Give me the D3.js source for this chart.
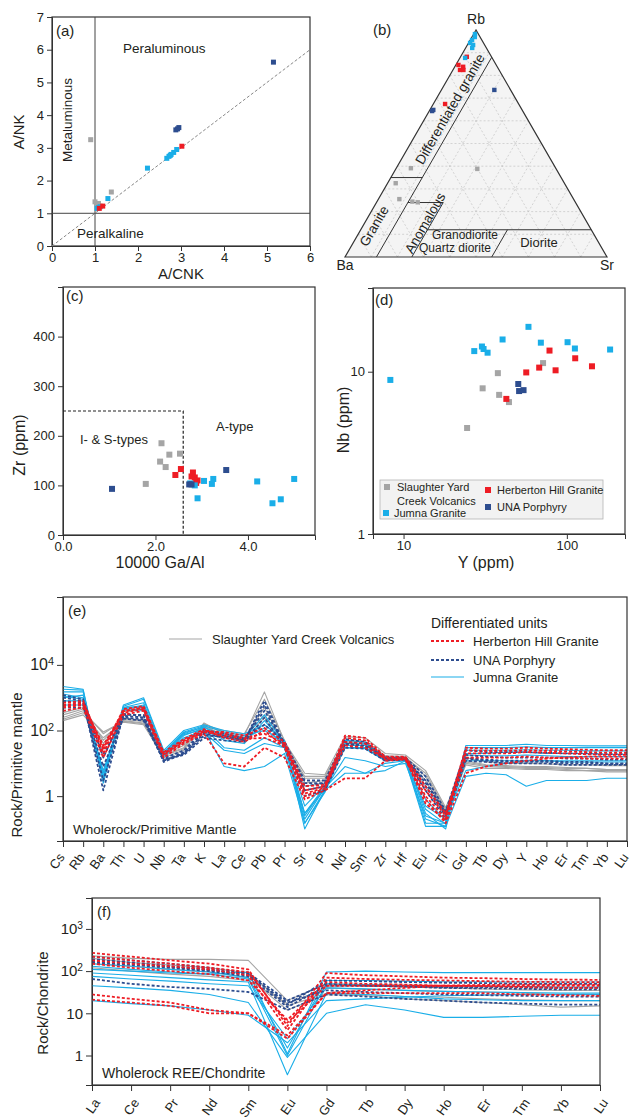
<!DOCTYPE html>
<html>
<head>
<meta charset="utf-8">
<script src="https://cdn.jsdelivr.net/npm/d3@7"></script>
<style>
  body { margin: 0; background: #fff; }
  text { font-family: "Liberation Sans", Arial, sans-serif; fill: #231f20; }
</style>
</head>
<body>
<svg id="fig" width="633" height="1119"></svg>
<script>
// ---------- data ----------
// (a) A/CNK vs A/NK
const aGray = [[0.9,3.25],[1.0,1.35],[1.08,1.3],[1.05,1.25],[1.38,1.65],[1.12,1.22]];
const aCyan = [[1.3,1.45],[2.22,2.38],[2.67,2.68],[2.72,2.74],[2.77,2.8],[2.83,2.86],[2.9,2.95],[1.05,1.15],[1.08,1.17],[1.12,1.2],[2.75,2.77]];
const aRed  = [[3.02,3.05],[1.18,1.22],[1.1,1.15]];
const aNavy = [[2.88,3.55],[2.95,3.62],[2.92,3.58],[5.15,5.62]];

// (b) Rb-Ba-Sr ternary, [Rb, Ba, Sr] %
const bCyan = [[98.2,1.3,0.5],[96.9,2.0,1.1],[95.6,3.7,0.7],[94.3,5.1,0.6],[93.4,4.4,2.2],[92.1,5.4,2.5],[87.7,10.3,2.0]];
const bRed  = [[88.2,9.4,2.4],[84.6,14.4,1.0],[83.8,13.0,3.2],[82.4,14.9,2.7],[82.4,13.6,4.0],[67.4,28.1,4.5]];
const bNavy = [[64.8,33.9,1.3],[64.3,34.6,1.1],[73.6,6.2,20.2]];
const bGray = [[39.1,55.3,5.6],[32.5,64.4,3.1],[25.5,66.5,8.0],[24.4,62.1,13.5],[24.1,60.2,15.7],[38.8,30.1,31.1]];

// (c) 10000 Ga/Al vs Zr
const cGray = [[2.13,185],[2.1,148],[2.22,137],[2.3,162],[2.53,164],[1.79,103]];
const cRed  = [[2.43,121],[2.55,133],[2.81,126],[2.85,116],[2.91,110],[2.78,118],[2.88,105]];
const cNavy = [[1.06,93],[2.73,102],[2.78,102],[3.53,131]];
const cCyan = [[2.85,100],[2.91,74],[3.05,109],[3.25,113],[3.22,103],[4.2,108],[4.53,64],[4.71,72],[5.0,113],[2.75,104]];

// (d) Y vs Nb
const dCyan = [[8.3,8.9],[27.1,13.4],[30.2,14.3],[30.9,13.8],[32.7,13.1],[40.4,15.8],[58.2,18.9],[69.3,15.1],[101,15.2],[112,13.9],[184,13.7]];
const dGray = [[37.8,9.8],[30.5,7.9],[38.5,7.2],[44.2,6.5],[24.5,4.5],[71.5,11.3]];
const dRed  = [[42.6,6.8],[56.4,9.9],[67.7,10.6],[78.3,13.5],[85.3,10.2],[112.5,12.1],[142.5,10.8]];
const dNavy = [[50.4,8.4],[51,7.6],[54.3,7.7]];

// (e) primitive-mantle normalised spider diagram
const spiderElems = ["Cs","Rb","Ba","Th","U","Nb","Ta","K","La","Ce","Pb","Pr","Sr","P","Nd","Sm","Zr","Hf","Eu","Ti","Gd","Tb","Dy","Y","Ho","Er","Tm","Yb","Lu"];
const eGray = [
  [250,400,80,200,170,18,30,160,90,70,1500,45,5,4.5,65,60,20,18,6,0.45,12,9,8.5,8,8,7.5,7,6.5,6.5],
  [200,300,60,180,150,15,25,140,70,55,500,35,3.5,3.5,50,45,17,16,4,0.35,10,8,7.5,7,7,6.5,6,6,6],
  [300,450,50,220,190,20,35,130,100,80,900,50,2.5,3,40,35,15,14,3,0.3,15,11,10,10,9.5,9,9,8.5,8.5],
  [350,500,40,240,200,22,40,150,60,50,250,30,2,2.5,30,30,13,13,2,0.25,9,7,7,6.5,6.5,6,6,5.5,5.5],
  [220,350,90,190,160,17,28,170,80,60,300,40,4,4,45,40,16,15,5,0.4,11,8.5,8,7.5,7.5,7,7,6.5,6.5]
];
const eRed = [
  [600,700,20,400,500,20,50,100,80,60,80,40,1.5,2,60,50,15,15,1.5,0.25,30,28,28,30,28,27,26,25,25],
  [500,600,30,350,450,18,45,90,70,55,60,35,1.2,1.8,45,40,13,14,1.0,0.2,25,24,24,25,24,23,22,21,21],
  [400,500,15,300,400,15,40,80,10,8,30,15,0.8,1.5,3.5,3.5,12,13,0.8,0.15,5,8,10,12,14,15,16,16,16],
  [700,800,25,450,550,22,55,110,60,45,100,30,1.0,1.7,35,30,14,14,0.6,0.18,15,15,15,16,15,15,14,14,14],
  [550,650,35,380,480,19,48,95,90,70,120,45,2,2.2,70,60,16,16,2,0.3,20,20,20,22,21,20,19,18,18]
];
const eNavy = [
  [1000,800,1.5,300,300,11,20,80,60,50,600,35,2,2.5,40,35,15,14,3,0.3,15,13,12,12,12,11,11,10,10],
  [800,700,3,280,250,12,22,90,70,55,400,40,1.5,2,45,40,14,14,2,0.25,18,16,15,15,15,14,14,13,13],
  [600,600,8,250,220,13,18,60,50,45,250,30,1,1.5,30,28,12,13,1.5,0.2,12,11,10,10,10,9,9,9,9],
  [1200,900,15,320,280,14,25,100,80,60,150,45,3,3,55,45,16,15,4,0.35,25,22,22,22,21,20,20,19,19],
  [500,500,20,230,200,12,20,70,65,50,800,38,2.5,2.5,38,33,13,14,2.5,0.3,14,12,11,11,11,10,10,9.5,9.5]
];
const eCyan = [
  [2200,1800,3,600,1000,25,100,150,100,80,150,50,0.1,1.5,40,40,15,15,0.3,0.1,35,35,35,38,35,35,34,34,34],
  [1800,1700,2.5,550,900,22,90,140,90,70,100,45,0.15,1.3,35,35,13,14,0.2,0.12,30,30,30,32,30,30,30,30,30],
  [1500,1500,4,500,700,20,80,130,50,40,200,40,0.3,2,30,30,12,13,0.15,0.15,25,25,25,26,25,25,24,24,24],
  [1000,1200,3.5,450,600,18,70,120,30,25,60,30,0.2,1.8,8,5,6,12,0.12,0.12,4,5,4.5,2,3,3,3,3.5,3.5],
  [1300,1000,5,480,500,21,75,110,8,6,8,20,0.15,1.5,5,5,10,12,0.5,0.2,6,8,10,12,12,12,12,12,12],
  [800,800,6,420,450,19,60,100,80,60,300,40,0.5,2.2,50,45,14,14,0.8,0.18,20,20,22,22,20,20,20,19,19],
  [600,600,4,400,400,16,55,90,25,20,40,30,0.3,1.6,15,12,8,10,0.25,0.15,12,12,12,12,12,11,11,11,11],
  [1100,900,3,500,550,20,85,125,70,55,120,35,0.25,1.9,30,28,12,13,0.4,0.14,18,17,17,18,17,16,16,16,16]
];

// (f) chondrite-normalised REE
const reeElems = ["La","Ce","Pr","Nd","Sm","Eu","Gd","Tb","Dy","Ho","Er","Tm","Yb","Lu"];
const fGray = [
  [230,200,190,190,180,20,50,45,42,40,38,36,35,35],
  [200,160,140,120,90,15,30,28,25,24,22,21,20,20],
  [150,130,110,95,70,12,28,26,22,20,18,16,14,15],
  [120,100,85,75,60,17,40,37,35,33,32,30,28,28]
];
const fRed = [
  [270,220,180,150,110,5,90,80,75,70,68,65,63,62],
  [180,150,130,110,80,4,70,65,62,60,58,56,55,55],
  [28,22,18,12,10,3,30,30,30,30,30,28,27,26],
  [21,18,15,10,10,2.5,30,35,40,45,47,48,48,48],
  [150,120,100,85,60,7,55,50,48,45,44,42,40,40],
  [220,180,150,120,95,6,45,45,45,45,45,45,45,45]
];
const fNavy = [
  [220,180,150,120,90,20,50,45,43,40,39,38,37,37],
  [190,160,130,110,80,18,35,32,30,28,27,26,25,25],
  [65,50,42,38,32,12,28,25,22,20,18,17,16,16],
  [160,140,120,100,75,14,45,45,44,42,42,41,40,40],
  [170,150,125,105,85,16,60,58,55,53,52,50,50,50]
];
const fCyan = [
  [110,100,90,85,95,1.1,95,100,95,92,92,92,92,92],
  [90,80,70,62,55,0.35,30,28,25,22,21,20,20,20],
  [45,40,35,28,18,0.9,10,16,12,8,8,8.5,9,9],
  [20,17,15,12,9,2,20,22,24,26,27,28,28,28],
  [150,130,110,95,70,1.5,60,60,58,56,56,55,55,55],
  [75,65,58,50,45,2.5,40,38,35,33,32,31,30,30],
  [130,110,95,85,65,1.0,50,48,46,45,44,43,42,42]
];

// ---------- styling ----------
const FONT = "'Liberation Sans', Arial, sans-serif";
const cGrayC = "#a5a5a5", cRedC = "#ee1c24", cNavyC = "#2d4d8f", cCyanC = "#1aaee8";
const ink = "#231f20";

const svg = d3.select("#fig");
svg.append("rect").attr("width", 633).attr("height", 1119).attr("fill", "#fff");

function styleAxis(g, size) {
  g.attr("font-family", FONT).attr("font-size", size);
  g.selectAll("path,line").attr("stroke", "#333");
  g.selectAll("text").attr("fill", ink);
  return g;
}

function squares(g, pts, x, y, color, s) {
  g.selectAll(null).data(pts).enter().append("rect")
    .attr("x", d => x(d[0]) - s / 2)
    .attr("y", d => y(d[1]) - s / 2)
    .attr("width", s).attr("height", s)
    .attr("fill", color);
}

function frame(g, x0, y0, x1, y1) {
  g.append("rect").attr("x", x0).attr("y", y0)
    .attr("width", x1 - x0).attr("height", y1 - y0)
    .attr("fill", "none").attr("stroke", "#333").attr("stroke-width", 1.2);
}

// ---------- (a) ----------
{
  const x = d3.scaleLinear().domain([0, 6]).range([52, 310]);
  const y = d3.scaleLinear().domain([0, 7]).range([246, 17]);
  const g = svg.append("g");

  styleAxis(g.append("g").attr("transform", "translate(0,246)")
    .call(d3.axisBottom(x).ticks(6).tickSize(5).tickPadding(2)), 13);
  styleAxis(g.append("g").attr("transform", "translate(52,0)")
    .call(d3.axisLeft(y).ticks(7).tickSize(5).tickPadding(3)), 13);
  frame(g, 52, 17, 310, 246);

  g.append("line").attr("x1", x(1)).attr("x2", x(1)).attr("y1", y(0)).attr("y2", y(7))
    .attr("stroke", "#444").attr("stroke-width", 1);
  g.append("line").attr("x1", x(0)).attr("x2", x(6)).attr("y1", y(1)).attr("y2", y(1))
    .attr("stroke", "#444").attr("stroke-width", 1);
  g.append("line").attr("x1", x(0)).attr("x2", x(6)).attr("y1", y(0)).attr("y2", y(6))
    .attr("stroke", "#888").attr("stroke-width", 1).attr("stroke-dasharray", "3,2");

  squares(g, aGray, x, y, cGrayC, 5);
  squares(g, aCyan, x, y, cCyanC, 5);
  squares(g, aRed, x, y, cRedC, 5);
  squares(g, aNavy, x, y, cNavyC, 5);

  g.append("text").attr("x", 56).attr("y", 36).attr("font-size", 15).text("(a)");
  g.append("text").attr("x", 123).attr("y", 53).attr("font-size", 13.5).text("Peraluminous");
  g.append("text").attr("transform", "translate(72,120) rotate(-90)")
    .attr("text-anchor", "middle").attr("font-size", 13.5).text("Metaluminous");
  g.append("text").attr("x", 77).attr("y", 238).attr("font-size", 13.5).text("Peralkaline");
  g.append("text").attr("x", 181).attr("y", 279).attr("text-anchor", "middle").attr("font-size", 15).text("A/CNK");
  g.append("text").attr("transform", "translate(24,132) rotate(-90)")
    .attr("text-anchor", "middle").attr("font-size", 15).text("A/NK");
}

// ---------- (b) ternary ----------
{
  const g = svg.append("g");
  const Rb = [476, 30], Ba = [345, 257], Sr = [607, 257];
  const pt = (r, b, s) => {
    const t = r + b + s;
    r /= t; b /= t; s /= t;
    return [Ba[0] * b + Sr[0] * s + Rb[0] * r, Ba[1] * b + Sr[1] * s + Rb[1] * r];
  };
  const tri = [Rb, Ba, Sr];
  g.append("polygon").attr("points", tri.map(p => p.join(",")).join(" "))
    .attr("fill", "#f4f4f4").attr("stroke", "none");

  const grid = d3.range(1, 10).map(k => k / 10);
  const segs = [];
  grid.forEach(k => {
    segs.push([pt(k, 1 - k, 0), pt(k, 0, 1 - k)]);   // constant Rb
    segs.push([pt(0, 1 - k, k), pt(1 - k, 0, k)]);   // constant Sr
    segs.push([pt(0, k, 1 - k), pt(1 - k, k, 0)]);   // constant Ba
  });
  g.selectAll(null).data(segs).enter().append("line")
    .attr("x1", d => d[0][0]).attr("y1", d => d[0][1])
    .attr("x2", d => d[1][0]).attr("y2", d => d[1][1])
    .attr("stroke", "#c4c4c4").attr("stroke-width", 0.7).attr("stroke-dasharray", "2,2");

  g.append("polygon").attr("points", tri.map(p => p.join(",")).join(" "))
    .attr("fill", "none").attr("stroke", "#333").attr("stroke-width", 1.2);

  const fields = [
    [pt(0, 88, 12), pt(88, 0, 12)],
    [pt(35, 65, 0), pt(35, 53, 12)],
    [pt(24, 64, 12), pt(24, 50.5, 25.5)],
    [pt(0, 74.5, 25.5), pt(24, 50.5, 25.5)],
    [pt(12, 63, 25), pt(12, 0, 88)],
    [pt(0, 44, 56), pt(12, 32, 56)]
  ];
  g.selectAll(null).data(fields).enter().append("line")
    .attr("x1", d => d[0][0]).attr("y1", d => d[0][1])
    .attr("x2", d => d[1][0]).attr("y2", d => d[1][1])
    .attr("stroke", "#333").attr("stroke-width", 1);

  const tsq = (pts, color) => g.selectAll(null).data(pts).enter().append("rect")
    .attr("x", d => pt(d[0], d[1], d[2])[0] - 2.2)
    .attr("y", d => pt(d[0], d[1], d[2])[1] - 2.2)
    .attr("width", 4.4).attr("height", 4.4).attr("fill", color);
  tsq(bGray, cGrayC);
  tsq(bNavy, cNavyC);
  tsq(bRed, cRedC);
  tsq(bCyan, cCyanC);

  g.append("text").attr("x", 373).attr("y", 35).attr("font-size", 15).text("(b)");
  g.append("text").attr("x", Rb[0]).attr("y", Rb[1] - 6).attr("text-anchor", "middle").attr("font-size", 14).text("Rb");
  g.append("text").attr("x", Ba[0]).attr("y", Ba[1] + 13).attr("text-anchor", "middle").attr("font-size", 14).text("Ba");
  g.append("text").attr("x", Sr[0]).attr("y", Sr[1] + 13).attr("text-anchor", "middle").attr("font-size", 14).text("Sr");

  const rot = (txt, cx, cy, fs) => g.append("text")
    .attr("transform", `translate(${cx},${cy}) rotate(-60)`)
    .attr("text-anchor", "middle").attr("dy", "0.35em").attr("font-size", fs).text(txt);
  rot("Differentiated granite", 450, 109, 13.5);
  rot("Granite", 374, 226, 13.5);
  rot("Anomalous", 425, 223, 13.5);
  g.append("text").attr("x", 465).attr("y", 239).attr("text-anchor", "middle").attr("font-size", 12).text("Granodiorite");
  g.append("text").attr("x", 455).attr("y", 252).attr("text-anchor", "middle").attr("font-size", 12).text("Quartz diorite");
  g.append("text").attr("x", 539).attr("y", 247).attr("text-anchor", "middle").attr("font-size", 13).text("Diorite");
}

// ---------- (c) ----------
{
  const x = d3.scaleLinear().domain([0, 5.45]).range([63, 315]);
  const y = d3.scaleLinear().domain([0, 500]).range([535, 287]);
  const g = svg.append("g");
  styleAxis(g.append("g").attr("transform", "translate(0,535)")
    .call(d3.axisBottom(x).tickValues([0, 2, 4]).tickSize(5).tickPadding(2)), 13);
  styleAxis(g.append("g").attr("transform", "translate(63,0)")
    .call(d3.axisLeft(y).tickValues([0, 100, 200, 300, 400]).tickSize(5).tickPadding(3)), 13);
  frame(g, 63, 287, 315, 535);

  g.append("path")
    .attr("d", `M${x(0)},${y(250)}H${x(2.6)}V${y(0)}`)
    .attr("fill", "none").attr("stroke", "#222").attr("stroke-width", 1.2).attr("stroke-dasharray", "3,2");

  squares(g, cGray, x, y, cGrayC, 6);
  squares(g, cRed, x, y, cRedC, 6);
  squares(g, cCyan, x, y, cCyanC, 6);
  squares(g, cNavy, x, y, cNavyC, 6);

  g.append("text").attr("x", 66).attr("y", 301).attr("font-size", 15).text("(c)");
  g.append("text").attr("x", 80).attr("y", 444).attr("font-size", 13).text("I- & S-types");
  g.append("text").attr("x", 216).attr("y", 431).attr("font-size", 13).text("A-type");
  g.append("text").attr("x", 160).attr("y", 568).attr("text-anchor", "middle").attr("font-size", 16).text("10000 Ga/Al");
  g.append("text").attr("transform", "translate(25,445) rotate(-90)")
    .attr("text-anchor", "middle").attr("font-size", 16).text("Zr (ppm)");
}

// ---------- (d) ----------
{
  const x = d3.scaleLog().domain([6.5, 227]).range([373, 625]);
  const y = d3.scaleLog().domain([1, 32.8]).range([534, 288]);
  const g = svg.append("g");
  styleAxis(g.append("g").attr("transform", "translate(0,534)")
    .call(d3.axisBottom(x).tickValues([10, 100]).tickFormat(d3.format("d")).tickSize(5).tickPadding(2)), 13);
  styleAxis(g.append("g").attr("transform", "translate(373,0)")
    .call(d3.axisLeft(y).tickValues([1, 10]).tickFormat(d3.format("d")).tickSize(5).tickPadding(3)), 13);
  frame(g, 373, 288, 625, 534);

  squares(g, dGray, x, y, cGrayC, 6);
  squares(g, dCyan, x, y, cCyanC, 6);
  squares(g, dRed, x, y, cRedC, 6);
  squares(g, dNavy, x, y, cNavyC, 6);

  g.append("text").attr("x", 375).attr("y", 305).attr("font-size", 15).text("(d)");
  g.append("text").attr("x", 486).attr("y", 568).attr("text-anchor", "middle").attr("font-size", 16).text("Y (ppm)");
  g.append("text").attr("transform", "translate(349,420) rotate(-90)")
    .attr("text-anchor", "middle").attr("font-size", 16).text("Nb (ppm)");

  // legend
  const lg = g.append("g");
  lg.append("rect").attr("x", 380).attr("y", 480).attr("width", 223).attr("height", 39)
    .attr("fill", "#f2f2f2").attr("stroke", "#b5b5b5").attr("stroke-width", 0.8);
  const items = [
    { c: cGrayC, x: 387, y: 487, t: ["Slaughter Yard", "Creek Volcanics"], tx: 397 },
    { c: cCyanC, x: 386, y: 513, t: ["Jumna Granite"], tx: 394 },
    { c: cRedC, x: 488, y: 490, t: ["Herberton Hill Granite"], tx: 497 },
    { c: cNavyC, x: 488, y: 507, t: ["UNA Porphyry"], tx: 497 }
  ];
  items.forEach(it => {
    lg.append("rect").attr("x", it.x - 3).attr("y", it.y - 3).attr("width", 6).attr("height", 6).attr("fill", it.c);
    it.t.forEach((s, i) => lg.append("text").attr("x", it.tx).attr("y", it.y + 4 + i * 13.5)
      .attr("font-size", 11).text(s));
  });
}

// ---------- helpers for spider plots ----------
function supText(g, x, y, v, fs) {
  const e = Math.round(Math.log10(v));
  const t = g.append("text").attr("x", x).attr("y", y).attr("dy", "0.35em")
    .attr("text-anchor", "end").attr("font-size", fs);
  if (e === 0) t.text("1");
  else if (e === 1) t.text("10");
  else {
    t.append("tspan").text("10");
    t.append("tspan").attr("dy", "-0.5em").attr("font-size", fs * 0.68).text(e);
  }
}

function spider(g, series, x, y, elems, style) {
  const line = d3.line().x((d, i) => x(elems[i])).y(d => y(d));
  g.selectAll(null).data(series).enter().append("path")
    .attr("d", line)
    .attr("fill", "none")
    .attr("stroke", style.c)
    .attr("stroke-width", style.w)
    .attr("stroke-dasharray", style.dash || null)
    .attr("stroke-linejoin", "round");
}

const stGray = { c: cGrayC, w: 1.1 };
const stCyan = { c: cCyanC, w: 1.1 };
const stNavy = { c: cNavyC, w: 1.8, dash: "3,2" };
const stRed = { c: cRedC, w: 1.8, dash: "3,2" };

// ---------- (e) ----------
{
  const L = 63, R = 627, T = 597, B = 841;
  const x = d3.scalePoint().domain(spiderElems).range([L, R]);
  const y = d3.scaleLog().domain([0.043, 1.17e6]).range([B, T]);
  const g = svg.append("g");

  styleAxis(g.append("g").attr("transform", `translate(0,${B})`)
    .call(d3.axisBottom(x).tickSize(6).tickFormat("")), 12);
  styleAxis(g.append("g").attr("transform", `translate(${L},0)`)
    .call(d3.axisLeft(y).tickValues([1, 100, 10000]).tickSize(6).tickFormat("")), 12);
  [1, 100, 10000].forEach(v => supText(g, 54, y(v), v, 16));

  spider(g, eGray, x, y, spiderElems, stGray);
  spider(g, eCyan, x, y, spiderElems, stCyan);
  spider(g, eNavy, x, y, spiderElems, stNavy);
  spider(g, eRed, x, y, spiderElems, stRed);
  frame(g, L, T, R, B);

  spiderElems.forEach(el => {
    g.append("text")
      .attr("transform", `translate(${x(el) - 1},${B + 14}) rotate(-55)`)
      .attr("text-anchor", "end").attr("dy", "0.3em").attr("font-size", 13).text(el);
  });

  g.append("text").attr("x", 68).attr("y", 616).attr("font-size", 15).text("(e)");
  g.append("text").attr("x", 73).attr("y", 834).attr("font-size", 13.5).text("Wholerock/Primitive Mantle");
  g.append("text").attr("transform", `translate(22,765) rotate(-90)`)
    .attr("text-anchor", "middle").attr("font-size", 15).text("Rock/Primitive mantle");

  // legend
  const lg = g.append("g");
  const legLine = (x0, yy, st) => lg.append("line").attr("x1", x0).attr("x2", x0 + 33)
    .attr("y1", yy).attr("y2", yy).attr("stroke", st.c).attr("stroke-width", st.w)
    .attr("stroke-dasharray", st.dash || null);
  legLine(169, 639, stGray);
  lg.append("text").attr("x", 212).attr("y", 644).attr("font-size", 13).text("Slaughter Yard Creek Volcanics");
  lg.append("text").attr("x", 431).attr("y", 628).attr("font-size", 14).text("Differentiated units");
  legLine(431, 641, stRed);
  lg.append("text").attr("x", 473).attr("y", 645.5).attr("font-size", 13).text("Herberton Hill Granite");
  legLine(431, 660, stNavy);
  lg.append("text").attr("x", 473).attr("y", 664.5).attr("font-size", 13).text("UNA Porphyry");
  legLine(431, 677, stCyan);
  lg.append("text").attr("x", 473).attr("y", 681.5).attr("font-size", 13).text("Jumna Granite");
}

// ---------- (f) ----------
{
  const L = 92, R = 600, T = 898, B = 1085;
  const x = d3.scalePoint().domain(reeElems).range([L, R]);
  const y = d3.scaleLog().domain([0.2, 5400]).range([B, T]);
  const g = svg.append("g");

  styleAxis(g.append("g").attr("transform", `translate(0,${B})`)
    .call(d3.axisBottom(x).tickSize(6).tickFormat("")), 12);
  styleAxis(g.append("g").attr("transform", `translate(${L},0)`)
    .call(d3.axisLeft(y).tickValues([1, 10, 100, 1000]).tickSize(6).tickFormat("")), 12);
  [1, 10, 100, 1000].forEach(v => supText(g, 83, y(v), v, 15));

  spider(g, fGray, x, y, reeElems, stGray);
  spider(g, fCyan, x, y, reeElems, stCyan);
  spider(g, fNavy, x, y, reeElems, stNavy);
  spider(g, fRed, x, y, reeElems, stRed);
  frame(g, L, T, R, B);

  reeElems.forEach(el => {
    g.append("text")
      .attr("transform", `translate(${x(el) + 5},${B + 15}) rotate(-55)`)
      .attr("text-anchor", "end").attr("dy", "0.35em").attr("font-size", 13).text(el);
  });

  g.append("text").attr("x", 97).attr("y", 917).attr("font-size", 15).text("(f)");
  g.append("text").attr("x", 102).attr("y", 1078).attr("font-size", 14).text("Wholerock REE/Chondrite");
  g.append("text").attr("transform", `translate(48,1003) rotate(-90)`)
    .attr("text-anchor", "middle").attr("font-size", 15).text("Rock/Chondrite");
}
</script>
</body>
</html>
